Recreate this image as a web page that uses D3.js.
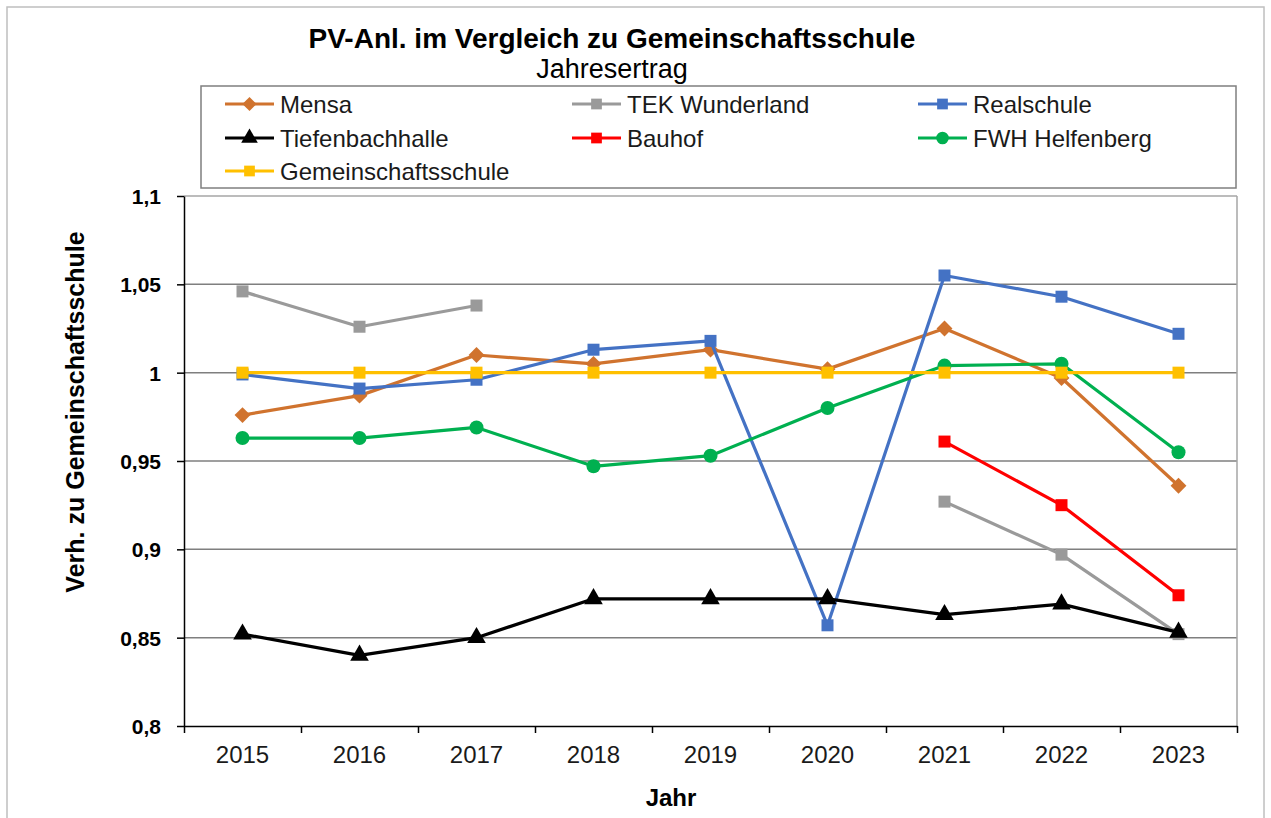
<!DOCTYPE html>
<html>
<head>
<meta charset="utf-8">
<script src="https://cdn.jsdelivr.net/npm/d3@7"></script>
<style>
  body { margin: 0; background: #fff; }
  svg { display: block; font-family: "Liberation Sans", Arial, sans-serif; }
</style>
</head>
<body>
<script>
// data
const years = ['2015', '2016', '2017', '2018', '2019', '2020', '2021', '2022', '2023']
const mensa = [0.976, 0.987, 1.010, 1.005, 1.013, 1.002, 1.025, 0.997, 0.936]
const tekWunderland = [1.046, 1.026, 1.038, null, null, null, 0.927, 0.897, 0.852]
const realschule = [0.999, 0.991, 0.996, 1.013, 1.018, 0.857, 1.055, 1.043, 1.022]
const tiefenbachhalle = [0.852, 0.840, 0.850, 0.872, 0.872, 0.872, 0.863, 0.869, 0.853]
const bauhof = [null, null, null, null, null, null, 0.961, 0.925, 0.874]
const fwhHelfenberg = [0.963, 0.963, 0.969, 0.947, 0.953, 0.980, 1.004, 1.005, 0.955]
const gemeinschaftsschule = [1, 1, 1, 1, 1, 1, 1, 1, 1]
const yTicks = [0.8, 0.85, 0.9, 0.95, 1, 1.05, 1.1]
const yTickLabels = ['0,8', '0,85', '0,9', '0,95', '1', '1,05', '1,1']

const series = [
  { name: 'Mensa', values: mensa, color: '#D0732E', symbol: d3.symbolDiamond2, size: 160 },
  { name: 'TEK Wunderland', values: tekWunderland, color: '#9A9A9A', symbol: d3.symbolSquare, size: 144 },
  { name: 'Realschule', values: realschule, color: '#4472C4', symbol: d3.symbolSquare, size: 144 },
  { name: 'Tiefenbachhalle', values: tiefenbachhalle, color: '#000000', symbol: d3.symbolTriangle, size: 150 },
  { name: 'Bauhof', values: bauhof, color: '#FF0000', symbol: d3.symbolSquare, size: 144 },
  { name: 'FWH Helfenberg', values: fwhHelfenberg, color: '#00B050', symbol: d3.symbolCircle, size: 155 },
  { name: 'Gemeinschaftsschule', values: gemeinschaftsschule, color: '#FFC000', symbol: d3.symbolSquare, size: 144 }
]

const width = 1271
const height = 818
const plot = { left: 184, right: 1237, top: 196, bottom: 726 }

const svg = d3.select('body').append('svg')
  .attr('width', width)
  .attr('height', height)

// outer chart frame
svg.append('rect')
  .attr('x', 7).attr('y', 7)
  .attr('width', 1257).attr('height', 830)
  .attr('fill', '#fff')
  .attr('stroke', '#BFBFBF')
  .attr('stroke-width', 1.5)

// titles
svg.append('text')
  .attr('x', 612).attr('y', 48)
  .attr('text-anchor', 'middle')
  .attr('font-weight', 'bold')
  .attr('font-size', 28)
  .text('PV-Anl. im Vergleich zu Gemeinschaftsschule')

svg.append('text')
  .attr('x', 612).attr('y', 78)
  .attr('text-anchor', 'middle')
  .attr('font-size', 27)
  .text('Jahresertrag')

// scales
const x = d3.scaleBand().domain(years).range([plot.left, plot.right])
const xEdge = d3.scaleLinear().domain([0, years.length]).range([plot.left, plot.right])
const y = d3.scaleLinear().domain([0.8, 1.1]).range([plot.bottom, plot.top])

// grid
svg.append('g')
  .selectAll('line')
  .data(yTicks.slice(1))
  .enter()
  .append('line')
  .attr('x1', plot.left).attr('x2', plot.right)
  .attr('y1', d => y(d)).attr('y2', d => y(d))
  .attr('stroke', d => d === 1.1 ? '#A6A6A6' : '#7F7F7F')
  .attr('stroke-width', 1.5)

// right frame edge
svg.append('line')
  .attr('x1', plot.right).attr('x2', plot.right)
  .attr('y1', plot.top).attr('y2', plot.bottom)
  .attr('stroke', '#A6A6A6')
  .attr('stroke-width', 1.5)

// y axis
const yAxis = d3.axisLeft(y)
  .tickValues(yTicks)
  .tickFormat((d, i) => yTickLabels[i])
  .tickSize(7)
  .tickSizeOuter(0)

const gy = svg.append('g')
  .attr('transform', `translate(${plot.left},0)`)
  .call(yAxis)
gy.select('.domain').attr('stroke', '#000').attr('stroke-width', 1.5)
gy.selectAll('.tick line').attr('stroke', '#000').attr('stroke-width', 1.5)
gy.selectAll('.tick text')
  .attr('x', -23)
  .attr('dy', '0.36em')
  .attr('font-size', 21)
  .attr('font-weight', 'bold')
  .attr('font-family', '"Liberation Sans", Arial, sans-serif')
  .attr('fill', '#000')

// x axis: ticks at category boundaries, labels centered
const gxTicks = svg.append('g')
  .attr('transform', `translate(0,${plot.bottom})`)
  .call(d3.axisBottom(xEdge).tickValues(d3.range(years.length + 1)).tickFormat('').tickSize(7).tickSizeOuter(0))
gxTicks.select('.domain').attr('stroke', '#000').attr('stroke-width', 1.5)
gxTicks.selectAll('.tick line').attr('stroke', '#000').attr('stroke-width', 1.5)

const gxLabels = svg.append('g')
  .attr('transform', `translate(0,${plot.bottom})`)
  .call(d3.axisBottom(x).tickSize(0).tickPadding(20))
gxLabels.select('.domain').remove()
gxLabels.selectAll('.tick text')
  .attr('font-size', 24)
  .attr('font-family', '"Liberation Sans", Arial, sans-serif')
  .attr('fill', '#1a1a1a')

// axis titles
svg.append('text')
  .attr('x', 671).attr('y', 806)
  .attr('text-anchor', 'middle')
  .attr('font-weight', 'bold')
  .attr('font-size', 24)
  .text('Jahr')

svg.append('text')
  .attr('transform', 'translate(84,412) rotate(-90)')
  .attr('text-anchor', 'middle')
  .attr('font-weight', 'bold')
  .attr('font-size', 25)
  .text('Verh. zu Gemeinschaftsschule')

// series
const line = d3.line()
  .defined(d => d != null)
  .x((d, i) => x(years[i]) + x.bandwidth() / 2)
  .y(d => y(d))

series.forEach(s => {
  const g = svg.append('g')
  g.append('path')
    .attr('d', line(s.values))
    .attr('fill', 'none')
    .attr('stroke', s.color)
    .attr('stroke-width', 3.2)
    .attr('stroke-linejoin', 'round')
  g.selectAll('path.mark')
    .data(s.values.map((v, i) => ({ v, i })).filter(d => d.v != null))
    .enter()
    .append('path')
    .attr('class', 'mark')
    .attr('d', d3.symbol(s.symbol, s.size))
    .attr('transform', d => `translate(${x(years[d.i]) + x.bandwidth() / 2},${y(d.v)})`)
    .attr('fill', s.color)
})

// legend
const legendBox = { x: 201, y: 86, w: 1035, h: 102 }
svg.append('rect')
  .attr('x', legendBox.x).attr('y', legendBox.y)
  .attr('width', legendBox.w).attr('height', legendBox.h)
  .attr('fill', '#fff')
  .attr('stroke', '#7F7F7F')
  .attr('stroke-width', 1.5)

const colX = [225, 572, 918]
const rowY = [104, 138, 171]

const legend = svg.append('g')
  .selectAll('g')
  .data(series)
  .enter()
  .append('g')
  .attr('transform', (d, i) => `translate(${colX[i % 3]},${rowY[Math.floor(i / 3)]})`)

legend.append('line')
  .attr('x1', 0).attr('x2', 49)
  .attr('stroke', d => d.color)
  .attr('stroke-width', 3.2)
legend.append('path')
  .attr('d', d => d3.symbol(d.symbol, d.size * 0.8)())
  .attr('transform', 'translate(24.5,0)')
  .attr('fill', d => d.color)
legend.append('text')
  .attr('x', 55)
  .attr('dy', '0.36em')
  .attr('font-size', 24)
  .attr('fill', '#1a1a1a')
  .text(d => d.name)
</script>
</body>
</html>
